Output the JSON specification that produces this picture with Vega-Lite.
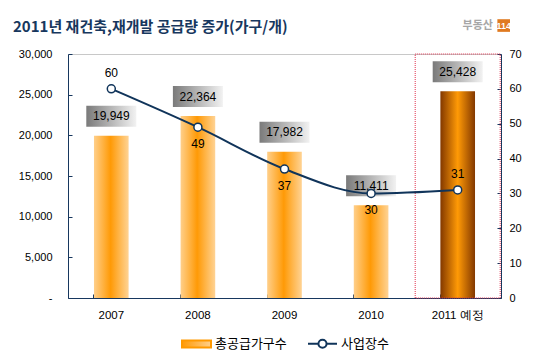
{
  "$schema": "https://vega.github.io/schema/vega-lite/v6.json",
  "width": 433,
  "height": 244,
  "autosize": {"type": "none"},
  "padding": {"left": 68, "top": 54, "right": 45, "bottom": 58},
  "background": "white",
  "title": {
    "text": "2011년 재건축,재개발 공급량 증가(가구/개)",
    "anchor": "start",
    "frame": "group",
    "dx": -55,
    "offset": -23,
    "baseline": "middle",
    "font": "Noto Sans CJK KR",
    "fontSize": 15,
    "fontWeight": "bold",
    "color": "#17375e"
  },
  "data": {
    "values": [
      {"year": "2007", "households": 19949, "sites": 60},
      {"year": "2008", "households": 22364, "sites": 49},
      {"year": "2009", "households": 17982, "sites": 37},
      {"year": "2010", "households": 11411, "sites": 30},
      {"year": "2011 예정", "households": 25428, "sites": 31}
    ]
  },
  "layer": [
    {
      "encoding": {
        "x": {
          "field": "year", "type": "nominal", "sort": null,
          "scale": {"paddingInner": 0.6, "paddingOuter": 0.3},
          "axis": {"orient": "bottom", "title": null, "labelAngle": 0, "ticks": false, "domain": true, "labelPadding": 11, "labelFontSize": 11.5}
        }
      },
      "layer": [
        {
          "mark": {"type": "bar"},
          "encoding": {
            "y": {
              "field": "households", "type": "quantitative",
              "scale": {"domain": [0, 30000], "nice": false},
              "axis": {
                "orient": "left", "title": null,
                "values": [0, 5000, 10000, 15000, 20000, 25000, 30000],
                "labelExpr": "datum.value == 0 ? '-' : format(datum.value, ',')",
                "tickSize": -4, "labelPadding": 20
              }
            },
            "color": {
              "condition": {
                "test": "datum.year === '2011 예정'",
                "value": {"gradient": "linear", "x1": 0, "x2": 1, "y1": 0, "y2": 0,
                  "stops": [{"offset": 0, "color": "#833800"}, {"offset": 0.5, "color": "#ff9a06"}, {"offset": 1, "color": "#833800"}]}
              },
              "value": {"gradient": "linear", "x1": 0, "x2": 1, "y1": 0, "y2": 0,
                "stops": [{"offset": 0, "color": "#ffcf8a"}, {"offset": 0.48, "color": "#ff9a06"}, {"offset": 1, "color": "#ffd394"}]}
            }
          }
        },
        {
          "mark": {"type": "bar", "width": 50, "yOffset": -30, "y2Offset": -9,
            "color": {"gradient": "linear", "x1": 0, "x2": 1, "y1": 0, "y2": 0,
              "stops": [{"offset": 0, "color": "#7a7a7a"}, {"offset": 1, "color": "#f2f2f2"}]}},
          "encoding": {
            "y": {"field": "households", "type": "quantitative"},
            "y2": {"field": "households"}
          }
        },
        {
          "mark": {"type": "text", "dy": -19.5, "baseline": "middle", "font": "Liberation Sans", "fontSize": 12, "color": "#000000"},
          "encoding": {
            "y": {"field": "households", "type": "quantitative"},
            "text": {"field": "households", "type": "quantitative", "format": ","}
          }
        },
        {
          "transform": [{"filter": "datum.year === '2011 예정'"}],
          "mark": {"type": "bar", "width": 85, "fill": null, "fillOpacity": 0, "stroke": "#e0304e", "strokeWidth": 1, "strokeDash": [1, 1]},
          "encoding": {
            "y": {"datum": 30000, "type": "quantitative"},
            "y2": {"datum": 0}
          }
        },
        {
          "transform": [{"filter": "datum.year === '2011 예정'"}],
          "mark": {"type": "text", "text": "부동산", "dx": 20, "baseline": "middle", "font": "Noto Sans CJK KR", "fontSize": 11, "fontWeight": "bold", "color": "#a6a6a6"},
          "encoding": {"y": {"datum": 33500, "type": "quantitative"}}
        },
        {
          "transform": [{"filter": "datum.year === '2011 예정'"}],
          "mark": {"type": "square", "xOffset": 46, "size": 160, "filled": true, "color": "#e07a20", "opacity": 1},
          "encoding": {"y": {"datum": 33500, "type": "quantitative"}}
        },
        {
          "transform": [{"filter": "datum.year === '2011 예정'"}],
          "mark": {"type": "text", "text": "114", "dx": 46, "baseline": "middle", "font": "Liberation Sans", "fontSize": 9, "fontWeight": "bold", "color": "#ffffff"},
          "encoding": {"y": {"datum": 33500, "type": "quantitative"}}
        }
      ]
    },
    {
      "encoding": {
        "x": {
          "field": "year", "type": "nominal", "sort": null,
          "axis": {"orient": "bottom", "title": null, "labels": false, "ticks": true, "tickSize": -4, "bandPosition": 0, "domain": false}
        },
        "y": {
          "field": "sites", "type": "quantitative",
          "scale": {"domain": [0, 70], "nice": false},
          "axis": {"orient": "right", "title": null, "values": [0, 10, 20, 30, 40, 50, 60, 70], "tickSize": -4, "labelPadding": 12}
        }
      },
      "layer": [
        {
          "mark": {"type": "line", "interpolate": "monotone", "strokeWidth": 2},
          "encoding": {
            "color": {
              "datum": "사업장수",
              "scale": {"domain": ["총공급가구수", "사업장수"], "range": ["#ff9900", "#10345a"]},
              "legend": {
                "orient": "bottom", "direction": "horizontal", "title": null,
                "offset": 7, "symbolSize": 841, "symbolStrokeWidth": 2,
                "labelFont": "Noto Sans CJK KR", "labelFontSize": 13, "labelColor": "#000000",
                "labelOffset": 3, "columnPadding": 17,
                "encode": {
                  "symbols": {
                    "update": {
                      "shape": [
                        {"test": "datum.label === '총공급가구수'", "value": "M-1,-0.24H1V0.24H-1Z"},
                        {"value": "M-1,0H-0.28M0.28,0H1M0.28,0A0.28,0.28 0 1 1 -0.28,0A0.28,0.28 0 1 1 0.28,0Z"}
                      ],
                      "fill": [
                        {"test": "datum.label === '총공급가구수'", "value": {"gradient": "linear", "x1": 0, "x2": 1, "y1": 0, "y2": 0,
                          "stops": [{"offset": 0, "color": "#ff9a06"}, {"offset": 1, "color": "#ffcf8a"}]}},
                        {"value": "#ffffff"}
                      ],
                      "stroke": [
                        {"test": "datum.label === '총공급가구수'", "value": "transparent"},
                        {"value": "#10345a"}
                      ],
                      "strokeWidth": {"value": 2},
                      "opacity": {"value": 1}
                    }
                  }
                }
              }
            }
          }
        },
        {
          "mark": {"type": "point", "shape": "circle", "size": 64, "filled": true, "fill": "#ffffff", "stroke": "#10345a", "strokeWidth": 1.5, "opacity": 1}
        },
        {
          "transform": [{"filter": "datum.year === '2007' || datum.year === '2011 예정'"}],
          "mark": {"type": "text", "dy": -16, "baseline": "middle", "font": "Liberation Sans", "fontSize": 12, "color": "#000000"},
          "encoding": {"text": {"field": "sites", "type": "quantitative"}}
        },
        {
          "transform": [{"filter": "datum.year !== '2007' && datum.year !== '2011 예정'"}],
          "mark": {"type": "text", "dy": 17, "baseline": "middle", "font": "Liberation Sans", "fontSize": 12, "color": "#000000"},
          "encoding": {"text": {"field": "sites", "type": "quantitative"}}
        }
      ]
    }
  ],
  "resolve": {"scale": {"y": "independent"}, "axis": {"x": "independent"}},
  "config": {
    "font": "Liberation Sans",
    "view": {"stroke": "#c8c8c8"},
    "legend": {"layout": {"bottom": {"anchor": "middle"}}},
    "axis": {
      "grid": false,
      "labelFont": "Liberation Sans",
      "labelFontSize": 11,
      "labelColor": "#000000",
      "domainColor": "#17375e",
      "tickColor": "#17375e",
      "domainWidth": 1
    }
  }
}
